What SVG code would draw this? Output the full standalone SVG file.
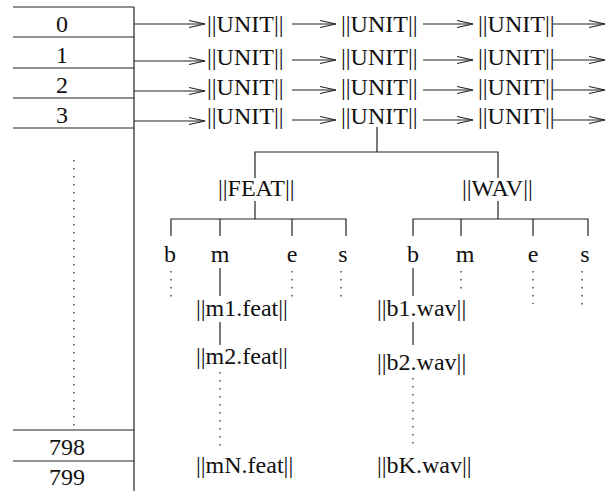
<svg xmlns="http://www.w3.org/2000/svg" width="616" height="491" viewBox="0 0 616 491">
<style>
text{font-family:"Liberation Serif","Times New Roman",serif;font-size:24px;fill:#111}
.num{text-anchor:middle}
line,path{stroke:#222;stroke-width:1.2;fill:none}
.dot{stroke-dasharray:1.5 6.5}
</style>
<defs>
<marker id="ah" markerUnits="userSpaceOnUse" markerWidth="17" markerHeight="10" viewBox="0 0 17 10" refX="16" refY="5" orient="auto">
<path d="M0,1.5 L16,5 L0,8.5" style="stroke:#222;stroke-width:1.2;fill:none"/>
</marker>
</defs>
<rect width="616" height="491" fill="#fff"/>
<g id="table">
<line x1="13" y1="7" x2="134" y2="7"/>
<line x1="13" y1="37" x2="134" y2="37"/>
<line x1="13" y1="68" x2="134" y2="68"/>
<line x1="13" y1="98" x2="134" y2="98"/>
<line x1="13" y1="128" x2="134" y2="128"/>
<line x1="13" y1="430" x2="134" y2="430"/>
<line x1="13" y1="461" x2="134" y2="461"/>
<line x1="134" y1="7" x2="134" y2="491"/>
<line class="dot" x1="74" y1="160" x2="74" y2="430"/>
<text class="num" x="62" y="32">0</text>
<text class="num" x="62" y="63">1</text>
<text class="num" x="62" y="93">2</text>
<text class="num" x="62" y="123">3</text>
<text class="num" x="67" y="455">798</text>
<text class="num" x="67" y="485">799</text>
</g>
<g id="units">
<text x="207" y="32">||UNIT||</text>
<text x="341" y="32">||UNIT||</text>
<text x="478" y="32">||UNIT||</text>
<text x="207" y="65">||UNIT||</text>
<text x="341" y="65">||UNIT||</text>
<text x="478" y="65">||UNIT||</text>
<text x="207" y="95">||UNIT||</text>
<text x="341" y="95">||UNIT||</text>
<text x="478" y="95">||UNIT||</text>
<text x="207" y="124">||UNIT||</text>
<text x="341" y="124">||UNIT||</text>
<text x="478" y="124">||UNIT||</text>
</g>
<g id="feat">
<text x="218" y="196">||FEAT||</text>
<text x="170" y="262" class="num">b</text>
<text x="220" y="262" class="num">m</text>
<text x="292" y="262" class="num">e</text>
<text x="343" y="262" class="num">s</text>
<text x="196" y="316">||m1.feat||</text>
<text x="196" y="364">||m2.feat||</text>
<text x="196" y="473">||mN.feat||</text>
</g>
<g id="wav">
<text x="462" y="196">||WAV||</text>
<text x="413" y="262" class="num">b</text>
<text x="465" y="262" class="num">m</text>
<text x="533" y="262" class="num">e</text>
<text x="585" y="262" class="num">s</text>
<text x="377" y="316">||b1.wav||</text>
<text x="377" y="370">||b2.wav||</text>
<text x="377" y="473">||bK.wav||</text>
</g>
<g id="connectors">
<line x1="134" y1="24" x2="205" y2="24" marker-end="url(#ah)"/>
<line x1="292" y1="24" x2="336" y2="24" marker-end="url(#ah)"/>
<line x1="423" y1="24" x2="473" y2="24" marker-end="url(#ah)"/>
<line x1="553" y1="24" x2="605" y2="24" marker-end="url(#ah)"/>
<line x1="134" y1="61" x2="205" y2="61" marker-end="url(#ah)"/>
<line x1="292" y1="60" x2="336" y2="60" marker-end="url(#ah)"/>
<line x1="423" y1="60" x2="473" y2="60" marker-end="url(#ah)"/>
<line x1="553" y1="60" x2="605" y2="60" marker-end="url(#ah)"/>
<line x1="134" y1="91" x2="205" y2="91" marker-end="url(#ah)"/>
<line x1="292" y1="90" x2="336" y2="90" marker-end="url(#ah)"/>
<line x1="423" y1="90" x2="473" y2="90" marker-end="url(#ah)"/>
<line x1="553" y1="90" x2="605" y2="90" marker-end="url(#ah)"/>
<line x1="134" y1="121" x2="205" y2="121" marker-end="url(#ah)"/>
<line x1="292" y1="120" x2="336" y2="120" marker-end="url(#ah)"/>
<line x1="423" y1="120" x2="473" y2="120" marker-end="url(#ah)"/>
<line x1="553" y1="120" x2="605" y2="120" marker-end="url(#ah)"/>
<path d="M377,127 V152 M255,178 V152 H498 V178"/>
<path d="M255,201 V219 M171,236 V219 H346 V236 M220,219 V236 M292,219 V236"/>
<path d="M498,201 V219 M413,236 V219 H588 V236 M461,219 V236 M533,219 V236"/>
<line x1="220" y1="268" x2="220" y2="296"/>
<line x1="413" y1="268" x2="413" y2="296"/>
<line x1="220" y1="322" x2="220" y2="345"/>
<line x1="413" y1="322" x2="413" y2="345"/>
<line class="dot" x1="171" y1="271" x2="171" y2="298"/>
<line class="dot" x1="292" y1="271" x2="292" y2="298"/>
<line class="dot" x1="341" y1="271" x2="341" y2="300"/>
<line class="dot" x1="461" y1="271" x2="461" y2="292"/>
<line class="dot" x1="533" y1="271" x2="533" y2="304"/>
<line class="dot" x1="582" y1="271" x2="582" y2="306"/>
<line class="dot" x1="220" y1="372" x2="220" y2="448"/>
<line class="dot" x1="413" y1="378" x2="413" y2="446"/>
</g>
</svg>
